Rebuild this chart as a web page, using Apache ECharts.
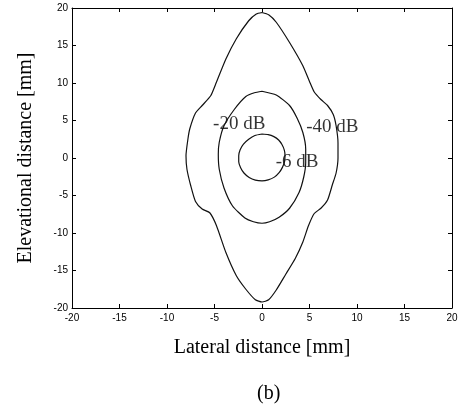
<!DOCTYPE html>
<html>
<head>
<meta charset="utf-8">
<script src="https://cdn.jsdelivr.net/npm/echarts@6/dist/echarts.min.js"></script>
<style>
  html, body { margin: 0; padding: 0; background: #fff; }
  #chart { width: 463px; height: 410px; }
</style>
</head>
<body>
<div id="chart"></div>
<script>
// contour outlines, [lateral mm, elevational mm]
const contour40 = [
  [0, 19.4], [0.7, 19.1], [1.5, 18.1], [2.9, 15.4], [4.3, 12.3], [5.0, 10.2], [5.5, 8.8],
  [6.2, 7.8], [6.9, 7.0], [7.5, 5.8], [7.8, 4.3], [8.0, 2.0], [8.0, 0], [7.8, -2.0],
  [7.4, -3.6], [6.9, -5.6], [6.2, -6.7], [5.5, -7.4], [4.9, -9.0], [4.3, -11.2],
  [3.5, -13.4], [2.5, -15.5], [1.5, -17.6], [0.7, -18.9], [0, -19.2], [-0.7, -18.9],
  [-1.7, -17.5], [-2.7, -15.7], [-3.8, -12.6], [-4.8, -9.0], [-5.5, -7.3], [-6.3, -6.8],
  [-7.0, -5.8], [-7.5, -3.7], [-7.9, -1.5], [-8.0, 0.3], [-7.8, 2.5], [-7.6, 3.9],
  [-7.0, 6.0], [-6.3, 7.0], [-5.4, 8.3], [-4.8, 10.1], [-3.8, 13.2], [-2.7, 15.9],
  [-1.4, 18.3], [-0.6, 19.2], [0, 19.4]
];
const contour20 = [
  [0, 8.9], [1.5, 8.4], [2.9, 7.0], [3.7, 5.3], [4.3, 3.4], [4.6, 1.2], [4.6, -0.6],
  [4.4, -2.5], [3.9, -4.6], [2.9, -6.7], [1.8, -7.9], [0.8, -8.5], [0, -8.7], [-0.9, -8.5],
  [-1.8, -8.0], [-3.1, -6.4], [-4.0, -4.0], [-4.5, -1.5], [-4.6, 0.5], [-4.5, 2.1],
  [-4.0, 4.3], [-2.9, 6.5], [-1.7, 8.2], [-0.8, 8.7], [0, 8.9]
];
const contour6 = [
  [0, 3.2], [0.65, 3.12], [1.25, 2.85], [1.75, 2.4], [2.1, 1.8], [2.35, 1.05], [2.42, 0.3],
  [2.38, -0.45], [2.15, -1.25], [1.8, -1.95], [1.3, -2.55], [0.65, -2.92], [0, -3.05],
  [-0.7, -2.95], [-1.35, -2.6], [-1.9, -2.0], [-2.25, -1.3], [-2.45, -0.5], [-2.45, 0.3],
  [-2.3, 1.1], [-1.95, 1.85], [-1.4, 2.5], [-0.75, 3.0], [0, 3.2]
];

const labelText = ['-20 dB', '-40 dB', '-6 dB'];
const labelPos = [[-2.4, 4.5], [7.4, 4.1], [3.7, -0.6]];

const axisMin = -20, axisMax = 20, axisStep = 5;

const serif = '"Liberation Serif", "DejaVu Serif", serif';
const sans = '"Liberation Sans", Arial, sans-serif';

const chart = echarts.init(document.getElementById('chart'));

const baseAxis = {
  type: 'value',
  min: axisMin,
  max: axisMax,
  interval: axisStep,
  splitLine: { show: false },
  axisLine: { show: true, onZero: false, lineStyle: { color: '#000', width: 1 } },
  axisTick: { show: true, inside: true, length: 4, lineStyle: { color: '#000' } }
};

function contourSeries(pts) {
  return {
    type: 'line',
    data: pts,
    showSymbol: false,
    smooth: 0.2,
    lineStyle: { color: '#111', width: 1.2 },
    silent: true
  };
}

chart.setOption({
  animation: false,
  backgroundColor: '#fff',
  grid: { left: 72, right: 11, top: 8, bottom: 102 },
  xAxis: [
    Object.assign({}, baseAxis, {
      position: 'bottom',
      name: 'Lateral distance [mm]',
      nameLocation: 'middle',
      nameGap: 30,
      nameTextStyle: { fontFamily: serif, fontSize: 20, color: '#000' },
      axisLabel: { fontFamily: sans, fontSize: 10, color: '#000', margin: 5 }
    }),
    Object.assign({}, baseAxis, { position: 'top', axisLabel: { show: false } })
  ],
  yAxis: [
    Object.assign({}, baseAxis, {
      position: 'left',
      name: 'Elevational distance [mm]',
      nameLocation: 'middle',
      nameGap: 36,
      nameTextStyle: { fontFamily: serif, fontSize: 20, color: '#000' },
      axisLabel: { fontFamily: sans, fontSize: 10, color: '#000', margin: 4 }
    }),
    Object.assign({}, baseAxis, { position: 'right', axisLabel: { show: false } })
  ],
  series: [
    contourSeries(contour40),
    contourSeries(contour20),
    contourSeries(contour6),
    {
      type: 'scatter',
      symbolSize: 0,
      silent: true,
      data: labelPos.map((p, i) => ({ value: p, name: labelText[i] })),
      label: {
        show: true,
        position: 'inside',
        formatter: p => p.name,
        fontFamily: serif,
        fontSize: 19,
        color: '#000',
        textBorderWidth: 0
      }
    }
  ],
  graphic: [
    {
      type: 'text',
      left: 257,
      top: 384,
      style: { text: '(b)', font: '20px ' + serif, fill: '#000' }
    }
  ]
});
</script>
</body>
</html>
